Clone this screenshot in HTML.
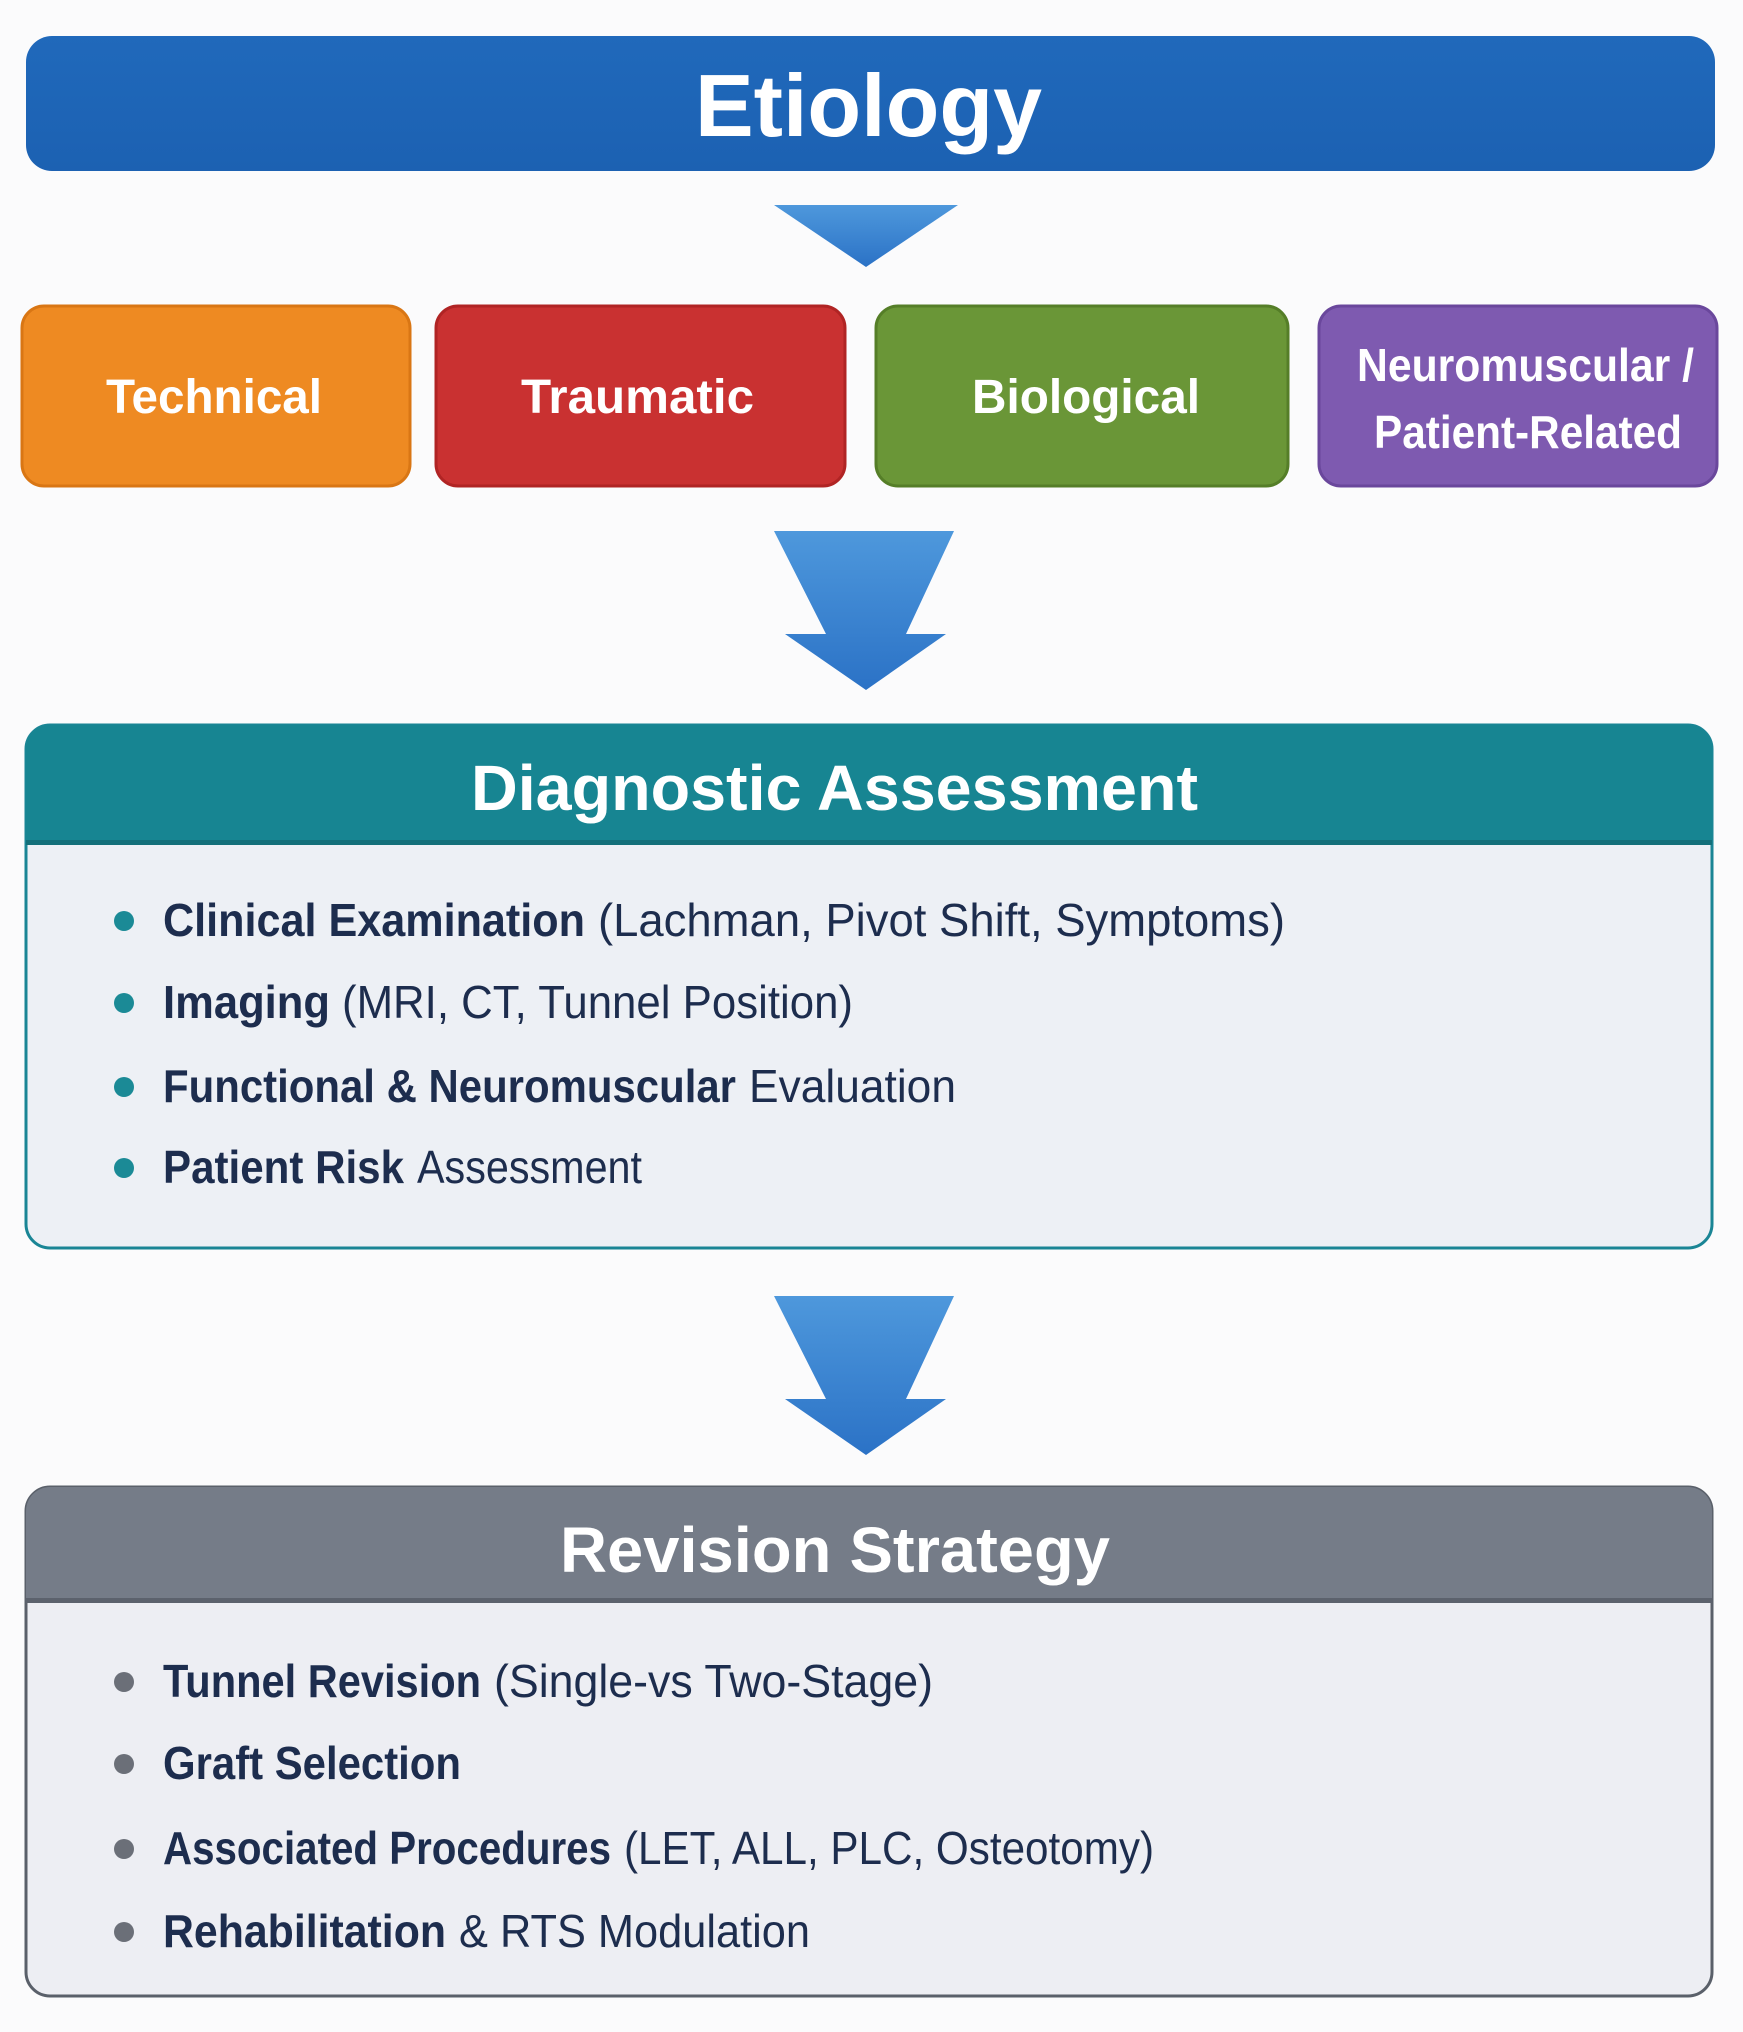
<!DOCTYPE html>
<html><head><meta charset="utf-8"><style>html,body{margin:0;padding:0;background:#fbfbfc}svg{display:block}</style></head><body>
<svg width="1743" height="2032" viewBox="0 0 1743 2032" xmlns="http://www.w3.org/2000/svg" font-family="Liberation Sans, DejaVu Sans, sans-serif">
<defs>
<linearGradient id="ar" x1="0" y1="0" x2="0" y2="1"><stop offset="0" stop-color="#4e98dc"/><stop offset="1" stop-color="#2b72c6"/></linearGradient>
<linearGradient id="et" x1="0" y1="0" x2="0" y2="1"><stop offset="0" stop-color="#2069bb"/><stop offset="1" stop-color="#1c61b2"/></linearGradient>
</defs>
<rect width="1743" height="2032" fill="#fbfbfc"/>
<!-- Etiology -->
<rect x="26" y="36" width="1689" height="135" rx="26" fill="url(#et)"/>
<text x="695" y="136" font-size="88" font-weight="bold" fill="#fff" textLength="347" lengthAdjust="spacingAndGlyphs">Etiology</text>
<polygon points="774,205 958,205 866,267" fill="url(#ar)"/>
<!-- Category boxes -->
<rect x="22" y="306" width="388" height="180" rx="22" fill="#ee8a22" stroke="#d97614" stroke-width="3"/>
<text x="106" y="413" font-size="48" font-weight="bold" fill="#fff" textLength="216" lengthAdjust="spacingAndGlyphs">Technical</text>
<rect x="436" y="306" width="409" height="180" rx="22" fill="#c93131" stroke="#b02424" stroke-width="3"/>
<text x="521" y="413" font-size="48" font-weight="bold" fill="#fff" textLength="233" lengthAdjust="spacingAndGlyphs">Traumatic</text>
<rect x="876" y="306" width="412" height="180" rx="22" fill="#6a9637" stroke="#557e28" stroke-width="3"/>
<text x="972" y="413" font-size="48" font-weight="bold" fill="#fff" textLength="228" lengthAdjust="spacingAndGlyphs">Biological</text>
<rect x="1319" y="306" width="398" height="180" rx="22" fill="#7e5ab0" stroke="#6a479c" stroke-width="3"/>
<text x="1357" y="381" font-size="46" font-weight="bold" fill="#fff" textLength="337" lengthAdjust="spacingAndGlyphs">Neuromuscular /</text>
<text x="1374" y="448" font-size="46" font-weight="bold" fill="#fff" textLength="308" lengthAdjust="spacingAndGlyphs">Patient-Related</text>
<!-- Arrow 1 -->
<polygon points="774,531 954,531 906,634 946,634 866,690 785,634 826,634" fill="url(#ar)"/>
<!-- Diagnostic -->
<rect x="26" y="725" width="1686" height="523" rx="24" fill="#edf0f5" stroke="#1a8595" stroke-width="3"/>
<path d="M26,842 V749 a24,24 0 0 1 24,-24 H1688 a24,24 0 0 1 24,24 V842 Z" fill="#178592"/>
<rect x="26" y="840" width="1686" height="5" fill="#136f7a"/>
<text x="471" y="810" font-size="64" font-weight="bold" fill="#fff" textLength="727" lengthAdjust="spacingAndGlyphs">Diagnostic Assessment</text>
<g fill="#1b8a96"><circle cx="124" cy="921" r="10"/><circle cx="124" cy="1003" r="10"/><circle cx="124" cy="1087" r="10"/><circle cx="124" cy="1168" r="10"/></g>
<g font-size="46" fill="#1d2d4e">
<text x="163" y="936" font-weight="bold" textLength="422" lengthAdjust="spacingAndGlyphs">Clinical Examination</text>
<text x="598" y="936" textLength="687" lengthAdjust="spacingAndGlyphs">(Lachman, Pivot Shift, Symptoms)</text>
<text x="163" y="1018" font-weight="bold" textLength="167" lengthAdjust="spacingAndGlyphs">Imaging</text>
<text x="342" y="1018" textLength="511" lengthAdjust="spacingAndGlyphs">(MRI, CT, Tunnel Position)</text>
<text x="163" y="1102" font-weight="bold" textLength="573" lengthAdjust="spacingAndGlyphs">Functional &amp; Neuromuscular</text>
<text x="749" y="1102" textLength="207" lengthAdjust="spacingAndGlyphs">Evaluation</text>
<text x="163" y="1183" font-weight="bold" textLength="241" lengthAdjust="spacingAndGlyphs">Patient Risk</text>
<text x="417" y="1183" textLength="225" lengthAdjust="spacingAndGlyphs">Assessment</text>
</g>
<!-- Arrow 2 -->
<polygon points="774,1296 954,1296 906,1399 946,1399 866,1455 785,1399 826,1399" fill="url(#ar)"/>
<!-- Revision -->
<rect x="26" y="1487" width="1686" height="509" rx="24" fill="#edeef3" stroke="#5a606a" stroke-width="3"/>
<path d="M26,1600 V1511 a24,24 0 0 1 24,-24 H1688 a24,24 0 0 1 24,24 V1600 Z" fill="#757c88"/>
<rect x="26" y="1598" width="1686" height="5" fill="#5c626d"/>
<text x="560" y="1572" font-size="64" font-weight="bold" fill="#fff" textLength="550" lengthAdjust="spacingAndGlyphs">Revision Strategy</text>
<g fill="#6b6f78"><circle cx="124" cy="1682" r="10"/><circle cx="124" cy="1764" r="10"/><circle cx="124" cy="1849" r="10"/><circle cx="124" cy="1932" r="10"/></g>
<g font-size="46" fill="#1d2d4e">
<text x="163" y="1697" font-weight="bold" textLength="318" lengthAdjust="spacingAndGlyphs">Tunnel Revision</text>
<text x="494" y="1697" textLength="439" lengthAdjust="spacingAndGlyphs">(Single-vs Two-Stage)</text>
<text x="163" y="1779" font-weight="bold" textLength="298" lengthAdjust="spacingAndGlyphs">Graft Selection</text>
<text x="163" y="1864" font-weight="bold" textLength="448" lengthAdjust="spacingAndGlyphs">Associated Procedures</text>
<text x="624" y="1864" textLength="530" lengthAdjust="spacingAndGlyphs">(LET, ALL, PLC, Osteotomy)</text>
<text x="163" y="1947" font-weight="bold" textLength="283" lengthAdjust="spacingAndGlyphs">Rehabilitation</text>
<text x="459" y="1947" textLength="351" lengthAdjust="spacingAndGlyphs">&amp; RTS Modulation</text>
</g>
</svg>
</body></html>
